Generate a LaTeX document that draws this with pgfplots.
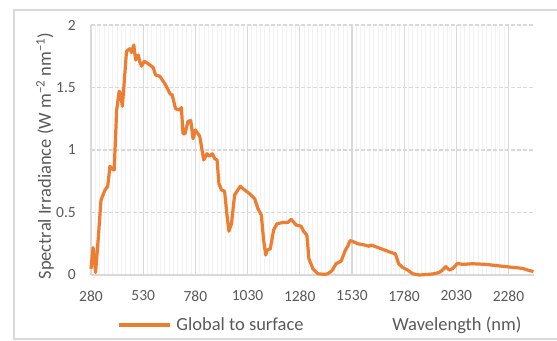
\documentclass[border=0pt]{standalone}
\usepackage{pgfplots}
\pgfplotsset{compat=1.18}
\usepackage{fontspec}
\setmainfont{Carlito}
\definecolor{txtc}{HTML}{595959}
\definecolor{orngc}{HTML}{ED7D31}
\definecolor{gridc}{HTML}{D9D9D9}
\definecolor{mgridc}{HTML}{F2F2F2}
\begin{document}
\begin{tikzpicture}[x=1bp,y=1bp]
\useasboundingbox (0,0) rectangle (557,340);
\draw[draw=gridc, line width=1.2bp] (14,1) rectangle (570,330);
\begin{axis}[
  at={(91bp,65bp)}, anchor=south west,
  scale only axis, width=442.5bp, height=250bp,
  xmin=280, xmax=2400, ymin=0, ymax=2,
  xtick={280,530,780,1030,1280,1530,1780,2030,2280},
  ytick={0,0.5,1,1.5,2},
  minor x tick num=11,
  xmajorgrids=true, xminorgrids=true, ymajorgrids=false,
  x grid style={draw=gridc, line width=1.2bp},
  minor x grid style={draw=mgridc, line width=1bp},
  axis x line*=bottom, axis y line*=left,
  x axis line style={draw=gridc, line width=1.2bp, -},
  y axis line style={draw=none},
  major tick length=0pt, minor tick length=0pt,
  /pgf/number format/assume math mode=true,
  /pgf/number format/.cd, 1000 sep={}, /pgfplots/.cd,
  yticklabel={\pgfmathprintnumber[fixed]{\tick}},
  ticklabel style={font=\fontsize{15.5bp}{18bp}\selectfont, text=txtc, inner sep=0pt},
  yticklabel style={anchor=east, xshift=-15bp},
  xticklabel style={anchor=center, yshift=-21bp},
  xlabel={Wavelength (nm)},
  ylabel={Spectral Irradiance (W m\textsuperscript{−2} nm\textsuperscript{−1})},
  label style={font=\fontsize{18.5bp}{22bp}\selectfont, text=txtc},
  xlabel style={at={(axis description cs:0.827,-0.2)}, anchor=center},
  ylabel style={at={(axis description cs:-0.104,0.476)}, anchor=center, rotate=0},
  legend style={at={(axis description cs:0.0588,-0.2)}, anchor=west, draw=none, fill=none,
    font=\fontsize{18.5bp}{22bp}\selectfont, text=txtc, inner sep=0pt,
    nodes={inner sep=0pt}},
  legend image code/.code={\draw[#1] (0bp,0bp) -- (51bp,0bp);},
  /tikz/every odd column/.append style={column sep=5bp},
  clip=false,
]
\addplot[forget plot, draw=gridc, line width=1.3bp, dash pattern=on 4bp off 2bp, no marks] coordinates {(280,0.5) (2400,0.5)};
\addplot[forget plot, draw=gridc, line width=1.3bp, dash pattern=on 4bp off 2bp, no marks] coordinates {(280,1) (2400,1)};
\addplot[forget plot, draw=gridc, line width=1.3bp, dash pattern=on 4bp off 2bp, no marks] coordinates {(280,1.5) (2400,1.5)};
\addplot[forget plot, draw=gridc, line width=1.3bp, dash pattern=on 4bp off 2bp, no marks] coordinates {(280,2) (2400,2)};
\addplot[orngc, line width=3.2bp, line join=round, no marks] coordinates {
(280,0.05) (283,0.1) (290,0.22) (296,0.12) (302,0.02) (315,0.3) (328,0.6) (347,0.68) (360,0.71)
(371,0.87) (380,0.85) (391,0.84) (403,1.32) (415,1.47) (422,1.45) (430,1.35) (440,1.56)
(450,1.79) (466,1.81) (474,1.78) (485,1.84) (494,1.72) (506,1.76) (515,1.70) (522,1.67)
(535,1.71) (554,1.69) (578,1.66) (589,1.60) (610,1.59) (634,1.53) (650,1.48) (658,1.45) (669,1.44)
(685,1.33) (705,1.32) (713,1.34) (721,1.13) (730,1.13) (745,1.23) (758,1.235) (769,1.09)
(780,1.16) (801,1.11) (820,0.92) (836,0.97) (848,0.95) (862,0.97) (873,0.93) (884,0.92)
(893,0.73) (905,0.68) (920,0.67) (932,0.47) (941,0.35) (953,0.41) (968,0.64) (995,0.71)
(1016,0.68) (1040,0.65) (1064,0.61) (1080,0.53) (1096,0.48) (1107,0.28) (1117,0.16)
(1125,0.20) (1139,0.21) (1155,0.36) (1171,0.41) (1199,0.42) (1223,0.42) (1239,0.445)
(1263,0.40) (1287,0.39) (1298,0.35) (1314,0.32) (1324,0.13) (1343,0.05) (1367,0.01)
(1399,0.005) (1414,0.01) (1435,0.035) (1454,0.09) (1478,0.11) (1499,0.20) (1510,0.23)
(1521,0.275) (1532,0.27) (1558,0.25) (1590,0.24) (1611,0.23) (1622,0.24) (1654,0.22)
(1686,0.20) (1718,0.18) (1738,0.17) (1754,0.09) (1773,0.06) (1797,0.04) (1821,0.01)
(1853,0.0) (1917,0.008) (1948,0.02) (1964,0.04) (1980,0.067) (1996,0.04) (2012,0.05)
(2036,0.093) (2060,0.085) (2108,0.09) (2172,0.085) (2267,0.067) (2347,0.053) (2371,0.04)
(2400,0.027)
};
\addlegendentry{Global to surface}
\end{axis}
\end{tikzpicture}
\end{document}
